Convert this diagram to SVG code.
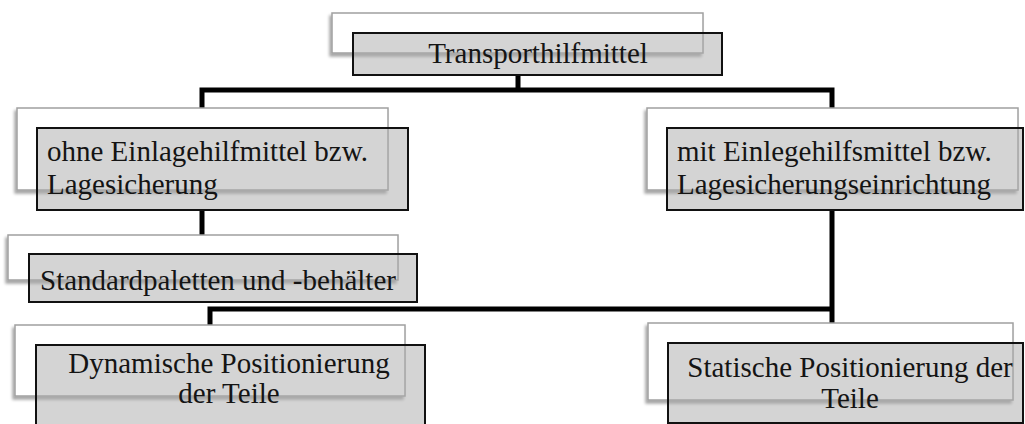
<svg xmlns="http://www.w3.org/2000/svg" width="1025" height="424" viewBox="0 0 1025 424">
<defs>
<filter id="sh" x="-10%" y="-20%" width="120%" height="150%">
<feDropShadow dx="-2" dy="3" stdDeviation="1.8" flood-color="#000" flood-opacity="0.35"/>
</filter>
<style>
.back{fill:#fff;stroke:#a0a0a0;stroke-width:1.5;filter:url(#sh)}
.front{fill:#a9a9a9;fill-opacity:0.5;stroke:#111;stroke-width:2}
.t{font-family:'Liberation Serif','DejaVu Serif','Times New Roman',serif;font-size:29px;fill:#141414}
.c{text-anchor:middle}
.conn{fill:none;stroke:#000;stroke-width:5;stroke-linejoin:miter}
</style>
</defs>
<rect width="1025" height="424" fill="#fff"/>
<g id="connectors">
<path class="conn" d="M518 75 V90 M202 108 V90 H832 V108"/>
<path class="conn" d="M202 210 V235"/>
<path class="conn" d="M210 325 V309 H832 V210 M832 309 V323"/>
</g>
<g id="n-top">
<rect class="back" x="332" y="13" width="371" height="40"/>
<rect class="front" x="353" y="33" width="369" height="42"/>
<text class="t c" x="538" y="63">Transporthilfmittel</text>
</g>
<g id="n-ohne">
<rect class="back" x="17" y="108" width="371" height="82"/>
<rect class="front" x="37" y="128" width="371" height="82"/>
<text class="t" x="47" y="161">ohne Einlagehilfmittel bzw.</text>
<text class="t" x="47" y="194">Lagesicherung</text>
</g>
<g id="n-mit">
<rect class="back" x="647" y="108" width="371" height="82"/>
<rect class="front" x="667" y="128" width="356" height="82"/>
<text class="t" x="677" y="161">mit Einlegehilfsmittel bzw.</text>
<text class="t" x="677" y="194">Lagesicherungseinrichtung</text>
</g>
<g id="n-standard">
<rect class="back" x="8" y="235" width="390" height="45"/>
<rect class="front" x="29" y="254" width="388" height="48"/>
<text class="t" x="40" y="290">Standardpaletten und -behälter</text>
</g>
<g id="n-dynamisch">
<rect class="back" x="15" y="325" width="390" height="71"/>
<rect class="front" x="36" y="345" width="389" height="84"/>
<text class="t c" x="229" y="373">Dynamische Positionierung</text>
<text class="t c" x="229" y="403">der Teile</text>
</g>
<g id="n-statisch">
<rect class="back" x="648" y="323" width="365" height="77"/>
<rect class="front" x="668" y="343" width="355" height="80"/>
<text class="t c" x="850" y="377">Statische Positionierung der</text>
<text class="t c" x="850" y="408">Teile</text>
</g>
</svg>
